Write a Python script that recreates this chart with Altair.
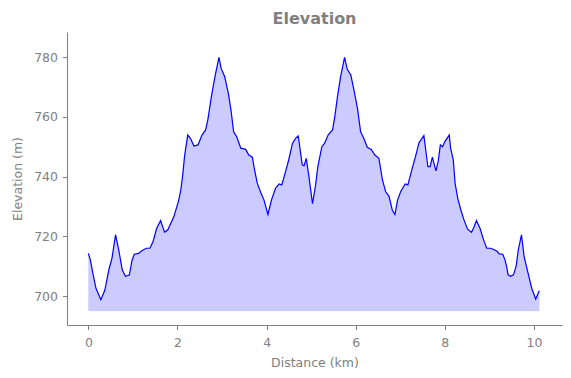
import altair as alt
import pandas as pd

distance_km = [0.00, 0.045, 0.10, 0.17, 0.28, 0.37, 0.46, 0.53, 0.61, 0.68, 0.76, 0.83, 0.92, 0.98,
               1.03, 1.13, 1.20, 1.30, 1.38, 1.45, 1.53, 1.62, 1.71, 1.78, 1.92, 2.03, 2.08, 2.12,
               2.16, 2.23, 2.29, 2.37, 2.46, 2.55, 2.63, 2.68, 2.76, 2.84, 2.93, 2.98, 3.06, 3.14,
               3.20, 3.26, 3.33, 3.42, 3.53, 3.60, 3.68, 3.73, 3.79, 3.87, 3.94, 4.03, 4.11, 4.20,
               4.28, 4.34, 4.43, 4.50, 4.58, 4.65, 4.71, 4.80, 4.84, 4.89, 4.95, 5.03, 5.10, 5.15,
               5.24, 5.30, 5.38, 5.48, 5.53, 5.59, 5.66, 5.75, 5.81, 5.89, 5.96, 6.04, 6.11, 6.18,
               6.26, 6.35, 6.43, 6.52, 6.60, 6.67, 6.75, 6.82, 6.88, 6.94, 7.01, 7.11, 7.17, 7.27,
               7.35, 7.42, 7.46, 7.53, 7.62, 7.67, 7.72, 7.80, 7.85, 7.90, 7.95, 8.00, 8.10, 8.13,
               8.19, 8.23, 8.29, 8.36, 8.43, 8.51, 8.60, 8.66, 8.71, 8.79, 8.87, 8.94, 9.03, 9.11,
               9.18, 9.22, 9.30, 9.35, 9.39, 9.42, 9.48, 9.54, 9.60, 9.65, 9.72, 9.78, 9.86, 9.95,
               10.04, 10.12]
elevation_m = [714.3, 712.0, 707.7, 702.6, 698.8, 702.0, 708.8, 712.7, 720.5, 715.5, 708.8, 706.6, 707.0, 712.0,
               714.0, 714.3, 715.2, 716.0, 716.0, 718.2, 722.5, 725.3, 721.4, 722.1, 726.6, 732.2, 736.0, 741.0,
               747.0, 753.9, 752.8, 750.2, 750.6, 753.9, 755.6, 758.9, 766.7, 773.4, 779.9, 776.2, 773.4, 767.9,
               762.3, 755.0, 753.3, 749.5, 749.1, 747.2, 746.5, 742.2, 737.8, 734.6, 732.2, 727.3, 732.2, 736.1,
               737.5, 737.2, 741.9, 745.8, 751.1, 752.8, 753.6, 743.9, 743.6, 746.1, 740.0, 730.9, 737.2, 743.3,
               750.0, 751.1, 753.9, 755.6, 760.0, 766.7, 773.4, 779.9, 775.9, 774.0, 769.0, 762.8, 755.0, 752.8,
               749.8, 749.1, 747.2, 746.1, 738.9, 735.0, 733.3, 728.8, 727.3, 732.2, 735.0, 737.5, 737.2, 742.8,
               747.2, 751.3, 752.2, 753.7, 743.3, 743.3, 746.5, 741.9, 745.0, 750.6, 750.0, 751.7, 753.9, 749.5,
               745.6, 737.8, 732.7, 728.8, 725.5, 722.4, 721.3, 723.3, 725.3, 722.7, 718.8, 716.0, 716.0, 715.5,
               714.9, 714.1, 714.0, 712.1, 709.7, 707.1, 706.6, 707.1, 709.9, 715.5, 720.5, 713.2, 708.2, 702.6,
               699.0, 701.8]
baseline_m = 695

df = pd.DataFrame({"d": distance_km, "e": elevation_m})
df["base"] = baseline_m

grey = "#808080"
font = "DejaVu Sans"

x = alt.X("d:Q", title="Distance (km)",
          scale=alt.Scale(domain=[-0.48, 10.63], nice=False, zero=False),
          axis=alt.Axis(values=[0, 2, 4, 6, 8, 10], grid=False))
y = alt.Y("e:Q", title="Elevation (m)",
          scale=alt.Scale(domain=[690.3, 788.4], nice=False, zero=False),
          axis=alt.Axis(values=[700, 720, 740, 760, 780], grid=False))

area = alt.Chart(df).mark_area(color="#0000ff", opacity=0.2, clip=True,
                               stroke="#0000ff", strokeOpacity=0.25, strokeWidth=1).encode(
    x=x, y=y, y2="base:Q")
line = alt.Chart(df).mark_line(color="#0000ff", strokeWidth=1.2, clip=True).encode(x=x, y=y)

chart = (area + line).properties(
    width=495, height=293,
    title=alt.TitleParams("Elevation", font=font, fontSize=16, fontWeight="bold", color=grey,
                          anchor="middle", offset=5),
    autosize=alt.AutoSizeParams(type="none"),
    padding={"left": 59, "top": 24, "right": 1, "bottom": 45},
).configure_view(stroke=None).configure_axis(
    domainColor=grey, tickColor=grey, labelColor=grey, titleColor=grey,
    labelFont=font, titleFont=font, labelFontSize=12.5, titleFontSize=12.5,
    titleFontWeight="normal", tickSize=4.5, domainWidth=1,
).configure_axisX(
    labelPadding=7, titlePadding=7,
).configure_axisY(
    labelPadding=5, titlePadding=9,
)

chart.save("out.html", embed_options={"renderer": "svg", "actions": False})
